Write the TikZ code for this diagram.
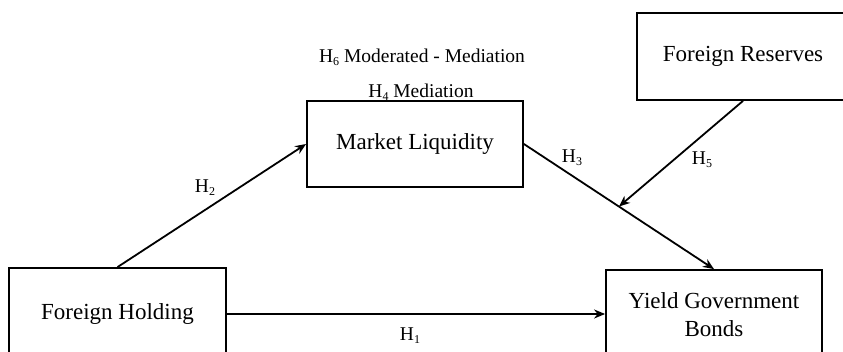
\documentclass[tikz,border=0pt]{standalone}
\usepackage{fontspec}
\setmainfont{Liberation Serif}
\usetikzlibrary{arrows.meta,calc}
\tikzset{
  box/.style={draw, line width=1.8pt, inner sep=0pt, align=center, font=\fontsize{23}{28}\selectfont},
  conn/.style={line width=1.8pt, -{Stealth[length=11pt,width=9pt]}},
  lbl/.style={inner sep=0pt, font=\fontsize{19.5}{23}\selectfont}
}
\newcommand{\hsub}[1]{\raisebox{-0.35ex}{\fontsize{12}{14}\selectfont #1}}
\begin{document}
\begin{tikzpicture}[x=1pt,y=-1pt]
\useasboundingbox (0,0) rectangle (843,352);
\clip (0,0) rectangle (843,352);
\node[box, minimum width=217pt, minimum height=92pt] (FH) at (117.5,314) {Foreign Holding};
\node[box, minimum width=216pt, minimum height=86pt] (ML) at (415,144) {Market Liquidity};
\node[box, minimum width=212pt, minimum height=87pt] (FR) at (743,56.5) {Foreign Reserves};
\node[box, minimum width=216pt, minimum height=90pt] (YG) at (714,315) {Yield Government\\Bonds};
\coordinate (mid) at ($(ML.east)!0.5!(YG.north)$);
\draw[conn] (FH.north) -- (ML.west);
\draw[conn] (ML.east) -- (YG.north);
\draw[conn] (FR.south) -- (mid);
\draw[conn] (FH.east) -- (FH.east -| YG.west);
\node[lbl] (h2) at (205,188) {H\hsub{2}};
\node[lbl] (h3) at (572,158) {H\hsub{3}};
\node[lbl] (h5) at (702,160) {H\hsub{5}};
\node[lbl] (h1) at (410,336) {H\hsub{1}};
\node[lbl] (h6) at (422,57) {H\hsub{6} Moderated - Mediation};
\node[lbl] (h4) at (421,92) {H\hsub{4} Mediation};
\end{tikzpicture}
\end{document}
